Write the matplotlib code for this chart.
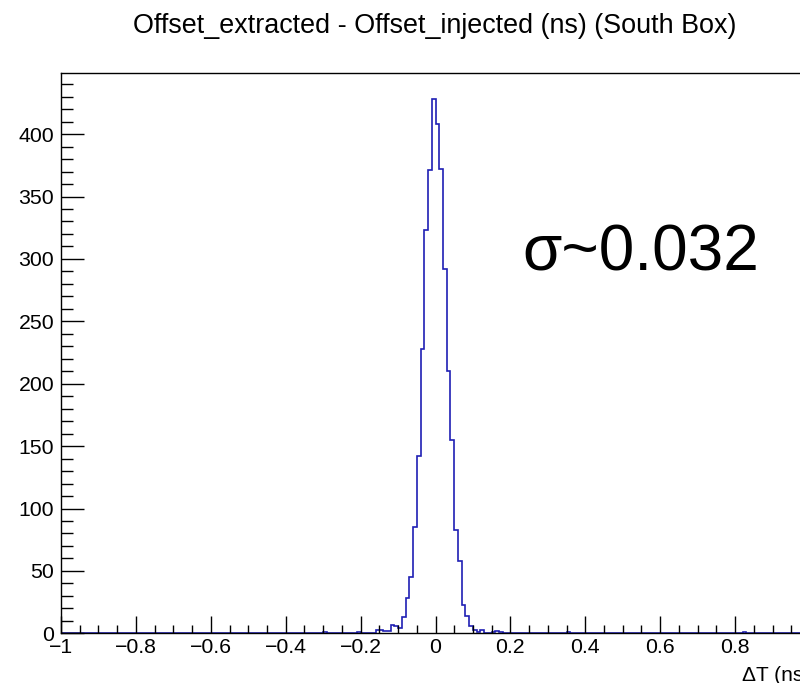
import numpy as np
import matplotlib
matplotlib.use("Agg")
import matplotlib.pyplot as plt
from matplotlib.ticker import MultipleLocator, FuncFormatter

plt.rcParams['font.family'] = ['Liberation Sans', 'DejaVu Sans']

# histogram: 200 bins of 0.01 ns between -1 and 1
x_min, x_max, n_bins = -1.0, 1.0, 200

# left edges of the non-empty bins and their entries
bin_left = [-0.30, -0.21, -0.16, -0.15, -0.14, -0.13, -0.12, -0.11, -0.10, -0.09,
            -0.08, -0.07, -0.06, -0.05, -0.04, -0.03, -0.02, -0.01, 0.00, 0.01,
            0.02, 0.03, 0.04, 0.05, 0.06, 0.07, 0.08, 0.09, 0.10, 0.11,
            0.12, 0.15, 0.16, 0.17, 0.35, 0.82]
bin_count = [1, 1, 3, 3, 2, 2, 7, 6, 4, 13,
             28, 45, 85, 142, 228, 323, 371, 428, 408, 372,
             292, 210, 155, 83, 58, 23, 14, 6, 3, 1,
             3, 1, 2, 1, 1, 1]

title = "Offset_extracted - Offset_injected (ns) (South Box)"
sigma_text = "σ~0.032"

edges = np.linspace(x_min, x_max, n_bins + 1)
counts = np.zeros(n_bins)
for lo, c in zip(bin_left, bin_count):
    counts[int(round((lo - x_min) / 0.01))] = c

fig = plt.figure(figsize=(8, 6.83), dpi=100)
# axes runs a bit past the right border, like the cropped original
ax = fig.add_axes([61 / 800, 49.7 / 683, 749 / 800, 560.6 / 683])

ax.stairs(counts, edges, color='#1f1fb4', lw=1.2, zorder=1)

ax.set_xlim(x_min, x_max)
ax.set_ylim(0, 449.2)

ax.xaxis.set_major_locator(MultipleLocator(0.2))
ax.xaxis.set_minor_locator(MultipleLocator(0.05))
ax.yaxis.set_major_locator(MultipleLocator(50))
ax.yaxis.set_minor_locator(MultipleLocator(10))

def fmt(v, pos):
    return ('%g' % round(v, 3)).replace('-', '\u2212')

ax.xaxis.set_major_formatter(FuncFormatter(fmt))

ax.tick_params(axis='both', which='both', direction='in', top=False, right=False,
               labelsize=15.3, colors='black', width=1)
ax.tick_params(axis='x', which='major', length=12.2, pad=3.5)
ax.tick_params(axis='x', which='minor', length=5.8)
ax.tick_params(axis='y', which='major', length=16.5, pad=5)
ax.tick_params(axis='y', which='minor', length=8.6)

for s in ax.spines.values():
    s.set_linewidth(1.0)
    s.set_color('black')
    s.set_zorder(3)

fig.text(435 / 800, 1 - 33.3 / 683, title, ha='center', va='baseline', fontsize=19.4)
fig.text(810 / 800, (683 - 680.7) / 683, "ΔT (ns)", ha='right', va='baseline', fontsize=15)

ax.text(0.232, 291, sigma_text, ha='left', va='baseline', fontsize=46)

fig.savefig("out.png", dpi=100)
